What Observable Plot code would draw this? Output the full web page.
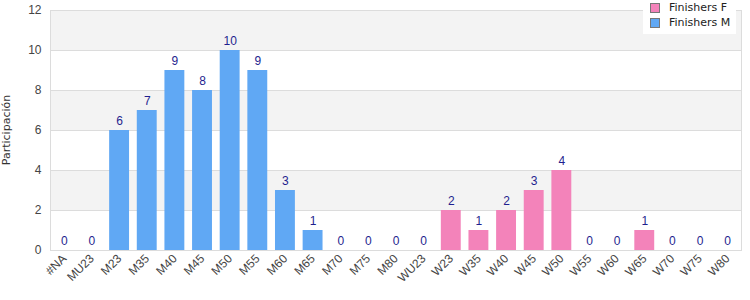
<!DOCTYPE html>
<html>
<head>
<meta charset="utf-8">
<script src="https://cdn.jsdelivr.net/npm/d3@7"></script>
<script src="https://cdn.jsdelivr.net/npm/@observablehq/plot@0.6"></script>
<style>
  html, body { margin: 0; padding: 0; background: #fff; }
  #wrap { position: relative; width: 750px; height: 300px; }
  #legend { position: absolute; left: 643px; top: 0px; width: 93px; height: 34px; background: #fff;
            font-family: "DejaVu Sans", sans-serif; font-size: 11px; color: #222; }
  #legend .item { position: absolute; left: 7px; display: flex; align-items: center; }
  #legend .sw { width: 8px; height: 8px; border: 1px solid #777; margin-right: 9px; }
</style>
</head>
<body>
<div id="wrap"></div>
<script>
const categories = ["#NA","MU23","M23","M35","M40","M45","M50","M55","M60","M65","M70","M75","M80",
  "WU23","W23","W35","W40","W45","W50","W55","W60","W65","W70","W75","W80"];
const catsM = ["#NA","MU23","M23","M35","M40","M45","M50","M55","M60","M65","M70","M75","M80"];
const finishersM = [0,0,6,7,9,8,10,9,3,1,0,0,0];
const catsF = ["WU23","W23","W35","W40","W45","W50","W55","W60","W65","W70","W75","W80"];
const finishersF = [0,2,1,2,3,4,0,0,1,0,0,0];
const yTicks = [0,2,4,6,8,10,12];
const bands = [[10,12],[6,8],[2,4]];
const seriesNames = ["Finishers F","Finishers M"];
const colors = ["#f383ba","#60a8f4"];

const data = [
  ...catsM.map((c,i) => ({cat: c, value: finishersM[i], series: "Finishers M"})),
  ...catsF.map((c,i) => ({cat: c, value: finishersF[i], series: "Finishers F"}))
];
const bandData = bands.map(([a,b]) => ({y1: a, y2: b}));

const chart = Plot.plot({
  width: 750, height: 300,
  marginLeft: 50, marginRight: 9, marginTop: 10, marginBottom: 50,
  style: {fontFamily: "Liberation Sans, Arial, sans-serif", fontSize: "12px", background: "#fff"},
  x: {domain: categories, paddingInner: 0.28, paddingOuter: 0.14, round: false, label: null},
  y: {domain: [0,12], label: null},
  color: {domain: seriesNames, range: colors},
  marks: [
    Plot.rectY(bandData, {y1: "y1", y2: "y2", fill: "#f3f3f3"}),
    Plot.gridY(yTicks, {stroke: "#dcdcdc", strokeOpacity: 1}),
    Plot.frame({stroke: "#dcdcdc"}),
    Plot.barY(data, {x: "cat", y: "value", fill: "series"}),
    Plot.text(data, {x: "cat", y: "value", text: d => String(d.value), dy: -9, fill: "#1f1f8f", fontSize: 12}),
    Plot.axisY(yTicks, {tickSize: 0, tickPadding: 9, fill: "#444", fontSize: 12, label: null}),
    Plot.axisX(categories, {tickSize: 0, tickRotate: -45, tickPadding: 6, fill: "#444", fontSize: 12, label: null})
  ]
});
const wrap = document.getElementById("wrap");
wrap.appendChild(chart);

const legend = document.createElement("div");
legend.id = "legend";
seriesNames.forEach((s, i) => {
  const it = document.createElement("div");
  it.className = "item";
  it.style.top = (i === 0 ? 1 : 16) + "px";
  const sw = document.createElement("div");
  sw.className = "sw"; sw.style.background = colors[i];
  const tx = document.createElement("span"); tx.textContent = s;
  it.appendChild(sw); it.appendChild(tx);
  legend.appendChild(it);
});
wrap.appendChild(legend);

const yl = document.createElementNS("http://www.w3.org/2000/svg","text");
yl.setAttribute("transform","translate(10,130) rotate(-90)");
yl.setAttribute("text-anchor","middle");
yl.setAttribute("font-family","DejaVu Sans, sans-serif");
yl.setAttribute("font-size","11");
yl.setAttribute("fill","#333");
yl.textContent = "Participación";
chart.appendChild(yl);
</script>
</body>
</html>
